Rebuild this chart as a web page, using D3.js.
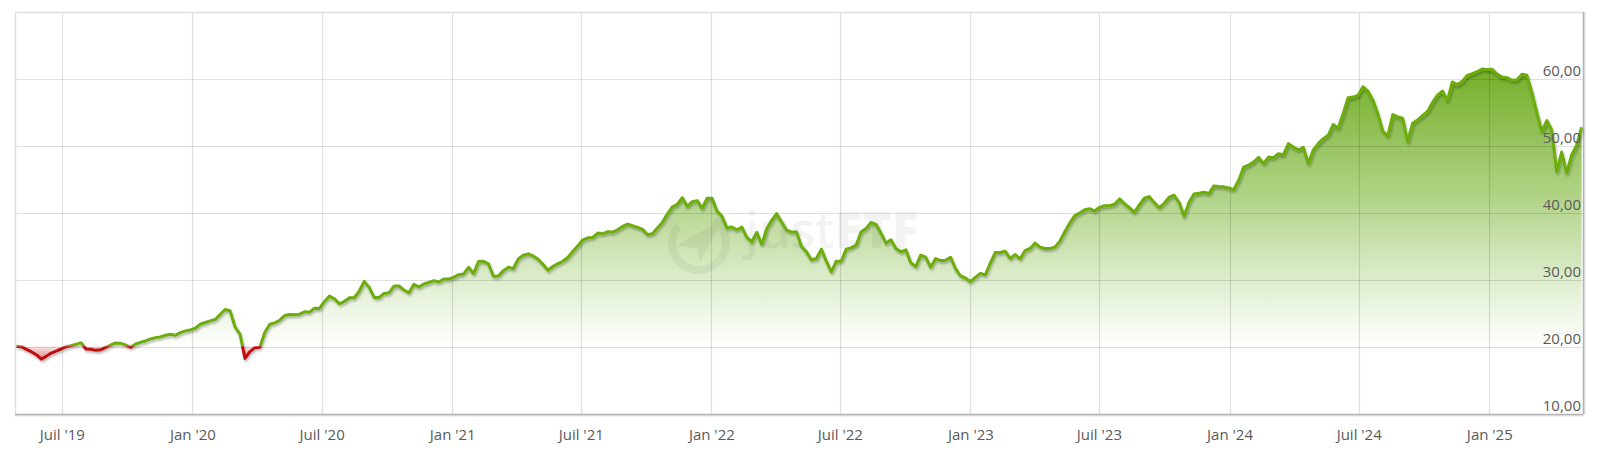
<!DOCTYPE html>
<html><head><meta charset="utf-8">
<script src="https://cdn.jsdelivr.net/npm/d3@7"></script>
<style>
html,body{margin:0;padding:0;background:#fff;}
svg{display:block;font-family:"Open Sans",sans-serif;}
</style></head><body>
<svg id="chart" width="1600" height="463"></svg>
<script>
// ---- data (weekly closes) ----
const startDate = "2019-04-28";
const closes = [
20.1, 20.05, 19.65, 19.3, 18.85, 18.2, 18.6, 19.1, 19.4, 19.7,
20.05, 20.2, 20.4, 20.65, 19.7, 19.65, 19.5, 19.6, 19.95, 20.3,
20.6, 20.55, 20.3, 19.95, 20.45, 20.7, 20.9, 21.2, 21.4, 21.5,
21.75, 21.9, 21.75, 22.15, 22.4, 22.55, 22.8, 23.4, 23.65, 23.9,
24.1, 24.85, 25.6, 25.4, 23.0, 21.9, 18.3, 19.3, 19.9, 19.95,
22.2, 23.4, 23.6, 24.0, 24.7, 24.85, 24.8, 24.9, 25.25, 25.2,
25.8, 25.75, 26.8, 27.6, 27.2, 26.45, 26.8, 27.35, 27.35, 28.35,
29.8, 28.9, 27.4, 27.4, 28.0, 28.1, 29.1, 29.1, 28.5, 28.1,
29.35, 28.95, 29.4, 29.65, 29.9, 29.7, 30.15, 30.15, 30.4, 30.8,
30.9, 31.9, 30.95, 32.75, 32.8, 32.4, 30.55, 30.6, 31.4, 31.9,
31.7, 33.15, 33.7, 33.9, 33.6, 33.1, 32.3, 31.45, 32.05, 32.45,
32.8, 33.4, 34.3, 35.1, 36.0, 36.3, 36.35, 37.0, 36.9, 37.2,
37.15, 37.5, 38.0, 38.35, 38.1, 37.85, 37.55, 36.8, 36.9, 37.75,
38.6, 39.85, 40.9, 41.3, 42.3, 41.0, 41.7, 41.85, 40.7, 42.2,
42.2, 40.3, 39.5, 37.75, 37.9, 37.5, 37.9, 36.35, 35.7, 37.1,
35.3, 37.65, 38.9, 39.9, 38.65, 37.45, 37.15, 37.15, 35.0, 34.2,
33.0, 33.2, 34.6, 32.8, 31.2, 32.8, 32.8, 34.6, 34.8, 35.2,
37.2, 37.7, 38.6, 38.3, 37.0, 35.5, 36.0, 34.7, 34.2, 34.5,
32.6, 32.0, 33.7, 33.4, 31.9, 33.2, 32.9, 32.95, 33.4, 31.7,
30.6, 30.3, 29.75, 30.4, 31.0, 30.75, 32.5, 34.1, 34.1, 34.3,
33.2, 33.8, 33.15, 34.4, 34.7, 35.5, 34.9, 34.7, 34.7, 34.9,
35.8, 37.2, 38.5, 39.6, 40.0, 40.5, 40.65, 40.3, 40.85, 41.1,
41.1, 41.3, 42.1, 41.4, 40.8, 40.1, 41.2, 42.2, 42.45, 41.55,
40.8, 41.45, 42.35, 42.65, 41.6, 39.5, 41.6, 42.85, 42.95, 43.1,
42.9, 44.05, 43.95, 43.9, 43.75, 43.5, 44.9, 46.85, 47.15, 47.6,
48.3, 47.4, 48.35, 48.25, 48.85, 48.7, 50.35, 49.85, 49.4, 49.8,
47.4, 49.4, 50.35, 51.1, 51.6, 53.2, 52.65, 54.8, 57.2, 57.3,
57.55, 58.85, 58.2, 56.85, 54.8, 52.2, 51.5, 54.7, 54.35, 54.15,
50.7, 53.4, 53.9, 54.55, 55.15, 56.5, 57.6, 58.2, 56.8, 59.55,
59.15, 59.65, 60.55, 60.8, 61.1, 61.5, 61.4, 61.45, 60.75, 60.3,
60.2, 59.8, 59.9, 60.7, 60.55, 58.0, 55.0, 52.2, 53.8, 52.4,
46.2, 49.1, 46.0, 48.7, 50.1, 52.8
];
const domainDates = ["2019-04-26", "2025-05-13"];
const tickDates = ["2019-07-01","2020-01-01","2020-07-01","2021-01-01","2021-07-01","2022-01-01",
                   "2022-07-01","2023-01-01","2023-07-01","2024-01-01","2024-07-01","2025-01-01"];
const tickLabels = ["Juil '19","Jan '20","Juil '20","Jan '21","Juil '21","Jan '22",
                    "Juil '22","Jan '23","Juil '23","Jan '24","Juil '24","Jan '25"];
const yDomain = [10, 70];
const yTicks = [10, 20, 30, 40, 50, 60, 70];
const yTickLabels = ["10,00","20,00","30,00","40,00","50,00","60,00",""];
const watermarkA = "just";
const watermarkB = "ETF";

// ---- build ----
const parse = d3.utcParse("%Y-%m-%d");
const t0 = parse(startDate);
const data = closes.map((v, i) => ({date: d3.utcDay.offset(t0, 7 * i), value: v}));
const base = closes[0];

const L = 15, R = 1583, T = 12, B = 414;
const x = d3.scaleUtc().domain(domainDates.map(parse)).range([L, R]);
const y = d3.scaleLinear().domain(yDomain).range([B, T]);
const yb = y(base);

const svg = d3.select("#chart");
const defs = svg.append("defs");

const gG = defs.append("linearGradient").attr("id", "gGreen")
  .attr("gradientUnits", "userSpaceOnUse").attr("x1", 0).attr("x2", 0)
  .attr("y1", y(62)).attr("y2", yb);
gG.append("stop").attr("offset", 0).attr("stop-color", "#74ae26");
gG.append("stop").attr("offset", 0.45).attr("stop-color", "#aed283");
gG.append("stop").attr("offset", 0.8).attr("stop-color", "#e3f0d5");
gG.append("stop").attr("offset", 1).attr("stop-color", "#ffffff");

const gR = defs.append("linearGradient").attr("id", "gRed")
  .attr("gradientUnits", "userSpaceOnUse").attr("x1", 0).attr("x2", 0)
  .attr("y1", yb).attr("y2", y(17.5));
gR.append("stop").attr("offset", 0).attr("stop-color", "#c81818").attr("stop-opacity", 0.1);
gR.append("stop").attr("offset", 1).attr("stop-color", "#c81818").attr("stop-opacity", 0.65);

defs.append("clipPath").attr("id", "cAbove").append("rect")
  .attr("x", L).attr("y", 0).attr("width", R - L).attr("height", yb);
defs.append("clipPath").attr("id", "cBelow").append("rect")
  .attr("x", L).attr("y", yb).attr("width", R - L).attr("height", B - yb);

const f = defs.append("filter").attr("id", "shadow").attr("x", "-5%").attr("y", "-5%")
  .attr("width", "110%").attr("height", "120%");
f.append("feDropShadow").attr("dx", 1).attr("dy", 2).attr("stdDeviation", 1.2)
  .attr("flood-color", "#000").attr("flood-opacity", 0.28);

// background
svg.append("rect").attr("x", L).attr("y", T).attr("width", R - L).attr("height", B - T).attr("fill", "#fff");

// areas
const area = d3.area().x(d => x(d.date)).y0(yb).y1(d => y(d.value));
svg.append("path").datum(data).attr("d", area).attr("fill", "url(#gGreen)").attr("clip-path", "url(#cAbove)");
svg.append("path").datum(data).attr("d", area).attr("fill", "url(#gRed)").attr("clip-path", "url(#cBelow)");

// watermark
const wm = svg.append("g").attr("fill", "#000").attr("opacity", 0.045);
wm.append("path").attr("fill", "none").attr("stroke", "#000").attr("stroke-width", 8)
  .attr("d", d3.arc()({innerRadius: 27, outerRadius: 27, startAngle: 0.6, endAngle: 5.4}))
  .attr("transform", "translate(699,243)");
wm.append("path").attr("d", "M676,246 L724,218 L700,262 L697,248 Z");
const wt = wm.append("text").attr("x", 745).attr("y", 248).attr("font-size", 50)
  .attr("font-family", "Open Sans, sans-serif");
wt.append("tspan").attr("font-weight", 600).text(watermarkA);
wt.append("tspan").attr("font-weight", 800).text(watermarkB);

// gridlines
const grid = svg.append("g").attr("stroke", "rgba(0,0,0,0.12)").attr("stroke-width", 1.2);
grid.selectAll("line.h").data(yTicks.slice(1, -1)).join("line")
  .attr("x1", L).attr("x2", R).attr("y1", d => Math.round(y(d)) + 0.5).attr("y2", d => Math.round(y(d)) + 0.5);
grid.selectAll("line.v").data(tickDates.map(parse)).join("line")
  .attr("y1", T).attr("y2", B).attr("x1", d => Math.round(x(d)) + 0.5).attr("x2", d => Math.round(x(d)) + 0.5);

// frame
svg.append("line").attr("x1", L).attr("x2", R).attr("y1", T + 0.5).attr("y2", T + 0.5).attr("stroke", "#dedede").attr("stroke-width", 1.5);
svg.append("line").attr("x1", L + 0.5).attr("x2", L + 0.5).attr("y1", T).attr("y2", B).attr("stroke", "#dedede").attr("stroke-width", 1.5);
svg.append("line").attr("x1", L).attr("x2", R + 1).attr("y1", B + 1.5).attr("y2", B + 1.5).attr("stroke", "#e6e6e6").attr("stroke-width", 2);
svg.append("line").attr("x1", R + 1.5).attr("x2", R + 1.5).attr("y1", T).attr("y2", B + 1).attr("stroke", "#e6e6e6").attr("stroke-width", 2);
svg.append("line").attr("x1", L).attr("x2", R).attr("y1", B + 0.5).attr("y2", B + 0.5).attr("stroke", "#b4b4b4").attr("stroke-width", 1.5);
svg.append("line").attr("x1", R + 0.5).attr("x2", R + 0.5).attr("y1", T).attr("y2", B).attr("stroke", "#b4b4b4").attr("stroke-width", 1.5);

// lines
const line = d3.line().x(d => x(d.date)).y(d => y(d.value));
const lg = svg.append("g").attr("filter", "url(#shadow)");
lg.append("path").datum(data).attr("d", line).attr("fill", "none").attr("stroke", "#6cad08")
  .attr("stroke-width", 3).attr("stroke-linejoin", "round").attr("clip-path", "url(#cAbove)");
lg.append("path").datum(data).attr("d", line).attr("fill", "none").attr("stroke", "#c00f0f")
  .attr("stroke-width", 3).attr("stroke-linejoin", "round").attr("clip-path", "url(#cBelow)");

// y labels (right, inside)
svg.append("g").selectAll("text").data(yTicks).join("text")
  .attr("x", R - 2).attr("y", d => y(d) - 3).attr("text-anchor", "end")
  .attr("font-size", 15).attr("fill", "#5a5a5a")
  .text((d, i) => yTickLabels[i]);

// x axis labels
const xAxis = d3.axisBottom(x).tickValues(tickDates.map(parse))
  .tickFormat((d, i) => tickLabels[i]).tickSize(0).tickPadding(0);
const ax = svg.append("g").attr("transform", "translate(0,440)").call(xAxis);
ax.select(".domain").remove();
ax.selectAll("text").attr("y", 0).attr("dy", null).attr("font-size", 15)
  .attr("fill", "#5a5a5a").attr("font-family", "Open Sans, sans-serif");
</script>
</body></html>
